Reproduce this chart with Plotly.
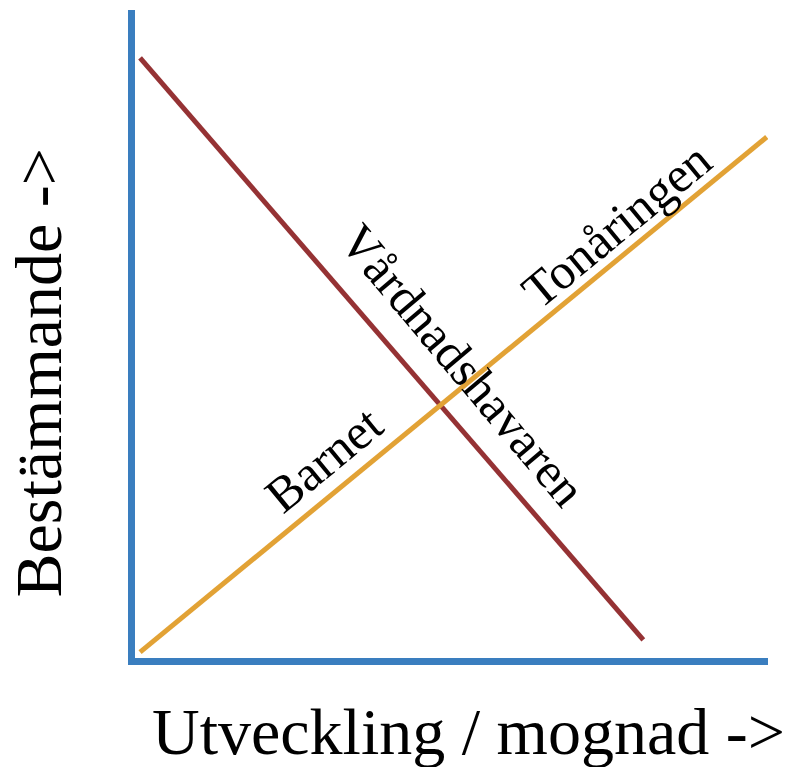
import plotly.graph_objects as go

# Data (normalised axis units)
x_vardnad = [0.008, 0.803]
y_vardnad = [0.926, 0.028]
x_barn = [0.008, 0.998]
y_barn = [0.009, 0.804]

label_vardnad = "Vårdnadshavaren"
label_ton = "Tonåringen"
label_barn = "Barnet"
x_title = "Utveckling / mognad ->"
y_title = "Bestämmande ->"

BLUE = "#3A7EBF"
RED = "#953234"
ORANGE = "#E2A235"
FONT = "Liberation Serif"

fig = go.Figure()
fig.add_trace(go.Scatter(x=x_vardnad, y=y_vardnad, mode="lines",
                         line=dict(color=RED, width=5), hoverinfo="skip", cliponaxis=False))
fig.add_trace(go.Scatter(x=x_barn, y=y_barn, mode="lines",
                         line=dict(color=ORANGE, width=5), hoverinfo="skip", cliponaxis=False))

ann = dict(showarrow=False, font=dict(family=FONT, size=50, color="black"),
           xref="x", yref="y")
fig.add_annotation(text=label_vardnad, x=0.518, y=0.452, textangle=50, **ann)
fig.add_annotation(text=label_ton, x=0.761, y=0.668, textangle=-39.5, **ann)
fig.add_annotation(text=label_barn, x=0.297, y=0.306, textangle=-39.5, **ann)

fig.add_annotation(text=x_title, x=0.527, y=-0.173, xref="paper", yref="paper",
                   showarrow=False, font=dict(family=FONT, size=66, color="black"))
fig.add_annotation(text=y_title, x=-0.213, y=0.44, xref="paper", yref="paper",
                   textangle=-90, showarrow=False,
                   font=dict(family=FONT, size=66, color="black"))

fig.update_xaxes(range=[0, 1], showgrid=False, zeroline=False, showticklabels=False,
                 showline=True, linecolor=BLUE, linewidth=7, ticks="")
fig.update_yaxes(range=[0, 1], showgrid=False, zeroline=False, showticklabels=False,
                 showline=True, linecolor=BLUE, linewidth=7, ticks="")

fig.update_layout(width=800, height=767, showlegend=False,
                  plot_bgcolor="white", paper_bgcolor="white",
                  margin=dict(l=127, r=40, t=2, b=117))

fig.write_html("out.html")
